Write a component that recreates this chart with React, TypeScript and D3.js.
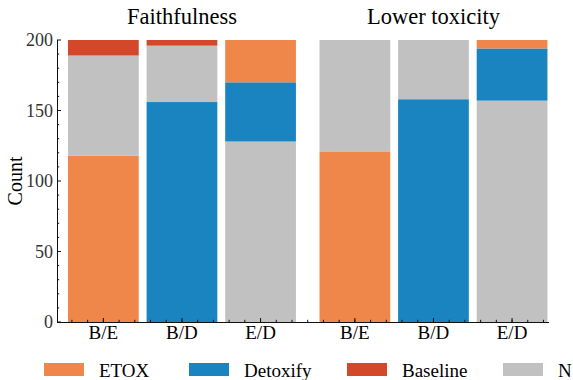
import * as d3 from "d3";
import React from "react";

// panels and pair labels
const groups = ["Faithfulness", "Lower toxicity"];
const categories = ["B/E", "B/D", "E/D"];
const positions = [0, 1, 2, 3.2, 4.2, 5.2];

// counts per bar (Faithfulness B/E, B/D, E/D, Lower toxicity B/E, B/D, E/D)
const etox = [118, 0, 30, 121, 0, 6];
const detoxify = [0, 156, 42, 0, 158, 37];
const baseline = [11, 4, 0, 0, 0, 0];
const neutral = [71, 40, 128, 79, 42, 157];

const seriesNames = ["ETOX", "Detoxify", "Baseline", "N"];
const colors = {
    ETOX: "#F0874A",
    Detoxify: "#1A84C0",
    Baseline: "#D3482A",
    N: "#C1C1C1",
};
// stacking order from bottom, per pair
const stackOrder = {
    "B/E": ["ETOX", "N", "Baseline"],
    "B/D": ["Detoxify", "N", "Baseline"],
    "E/D": ["N", "Detoxify", "ETOX"],
};

const yTicks = [0, 50, 100, 150, 200];

const App = () => {
    const width = 573, height = 380;
    const font = { fontFamily: '"Liberation Serif", "Times New Roman", Tinos, serif' };
    const left = 57, right = 549, top = 40, bottom = 322;

    const x = d3.scaleLinear().domain([-0.59, 5.67]).range([left, right]);
    const y = d3.scaleLinear().domain([0, 200]).range([bottom, top]);
    const barW = x(0.9) - x(0);

    const values = { ETOX: etox, Detoxify: detoxify, Baseline: baseline, N: neutral };

    const bars = positions.map((p, i) => {
        const cat = categories[i % categories.length];
        let acc = 0;
        return stackOrder[cat].map((name) => {
            const v = values[name][i];
            const seg = { name, y0: acc, y1: acc + v, p };
            acc += v;
            return seg;
        }).filter((s) => s.y1 > s.y0);
    });

    const yMinor = d3.range(0, 201, 10).filter((v) => v % 50 !== 0);
    const xMinor = d3.range(-2, 29).map((k) => k * 0.2)
        .filter((v) => v >= x.domain()[0] && v <= x.domain()[1]);

    const legendX = [44, 189, 347, 503];

    return (
        <div style={{ position: "fixed", left: 0, top: 0 }}>
            <svg width={width} height={height} style={{ display: "block", ...font }}>
                <rect width={width} height={height} fill="#fff" />
                {bars.map((segs, i) =>
                    segs.map((s, j) => (
                        <rect key={i + "-" + j}
                              x={x(s.p) - barW / 2}
                              y={y(s.y1)}
                              width={barW}
                              height={y(s.y0) - y(s.y1)}
                              fill={colors[s.name]} />
                    ))
                )}

                {/* left axis */}
                <line x1={left + 0.5} x2={left + 0.5} y1={top} y2={bottom + 0.5} stroke="#111" strokeWidth={1} />
                {yTicks.map((t) => (
                    <g key={"yt" + t}>
                        <line x1={left} x2={left + 4} y1={y(t)} y2={y(t)} stroke="#111" />
                        <text x={left - 4} y={y(t)} dy="0.35em" textAnchor="end"
                              style={font} fontSize={18} fill="#333">{t}</text>
                    </g>
                ))}
                {yMinor.map((t) => (
                    <line key={"ym" + t} x1={left} x2={left + 2.2} y1={y(t)} y2={y(t)} stroke="#111" />
                ))}

                {/* bottom axis */}
                <line x1={left} x2={right} y1={bottom + 0.5} y2={bottom + 0.5} stroke="#111" strokeWidth={1} />
                {xMinor.map((t) => (
                    <line key={"xm" + t} x1={x(t)} x2={x(t)} y1={bottom} y2={bottom - 2.2} stroke="#111" />
                ))}
                {positions.map((p, i) => (
                    <g key={"xt" + i}>
                        <line x1={x(p)} x2={x(p)} y1={bottom} y2={bottom - 4} stroke="#111" />
                        <text x={x(p)} y={339} textAnchor="middle"
                              style={font} fontSize={19} fill="#000">
                            {categories[i % categories.length]}
                        </text>
                    </g>
                ))}

                {/* panel titles */}
                {groups.map((g, gi) => (
                    <text key={g} x={x(positions[gi * 3 + 1])} y={24} textAnchor="middle"
                          style={font} fontSize={22.5} fill="#000">{g}</text>
                ))}

                <text transform={`translate(22,181) rotate(-90)`} textAnchor="middle"
                      style={font} fontSize={20} fill="#000">Count</text>

                {/* legend */}
                {seriesNames.map((name, i) => (
                    <g key={"lg" + name}>
                        <rect x={legendX[i]} y={363} width={40} height={13} fill={colors[name]} />
                        <text x={legendX[i] + 55} y={377} style={font} fontSize={19} fill="#000">{name}</text>
                    </g>
                ))}
            </svg>
        </div>
    );
};

export default App;
